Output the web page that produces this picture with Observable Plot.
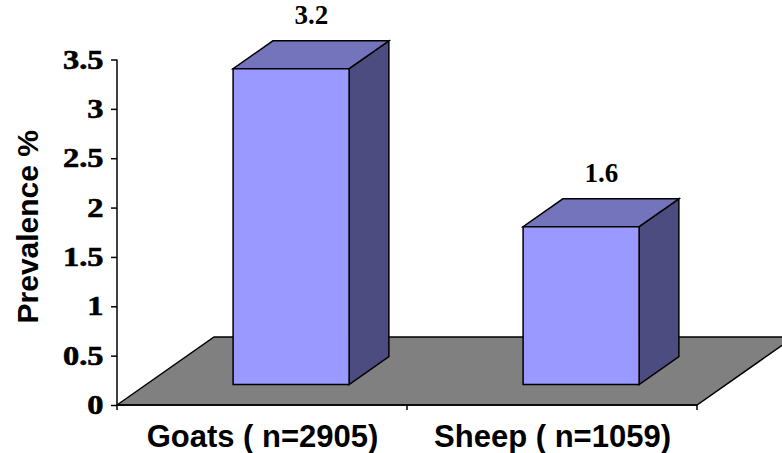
<!DOCTYPE html>
<html>
<head>
<meta charset="utf-8">
<script src="https://cdn.jsdelivr.net/npm/d3@7"></script>
<script src="https://cdn.jsdelivr.net/npm/@observablehq/plot@0.6"></script>
<style>
  body { margin: 0; background: #fff; }
  #chart svg { display: block; }
</style>
</head>
<body>
<div id="chart"></div>
<script>
// Prevalence by species
const categories = ["Goats ( n=2905)", "Sheep ( n=1059)"];
const prevalence = [3.2, 1.6];
const valueLabels = ["3.2", "1.6"];
const yTicks = [0, 0.5, 1, 1.5, 2, 2.5, 3, 3.5];
const yTickLabels = ["0", "0.5", "1", "1.5", "2", "2.5", "3", "3.5"];
const yLabel = "Prevalence %";

const data = categories.map((c, i) => ({category: c, value: prevalence[i], label: valueLabels[i]}));

// Pseudo-3D look: the floor recedes by this pixel offset, columns occupy part of that depth
const depth = [97, -68];
const colFront = 0.3;
const colBack = 0.71;
const colWidth = 0.4;
const colors = {front: "#9999ff", top: "#7474bc", side: "#4c4c80", floor: "#808080"};

function columns3d(index, scales, values, dims) {
  const x = scales.x, y = scales.y;
  const n = categories.length;
  const x0 = dims.marginLeft, x1 = dims.width - dims.marginRight;
  const bw = typeof x.bandwidth === "function" ? x.bandwidth() : (x1 - x0) / n;
  const yb = y(0);
  const [dx, dy] = depth;
  const g = d3.create("svg:g");
  const poly = (pts, fill) => g.append("polygon")
    .attr("points", pts.map(p => p.join(",")).join(" "))
    .attr("fill", fill).attr("stroke", "#000").attr("stroke-width", 1.5)
    .attr("stroke-linejoin", "miter");

  // floor
  poly([[x0, yb], [x0 + dx, yb + dy], [x1 + dx, yb + dy], [x1, yb]], colors.floor);

  // columns
  const bdx = dx * (colBack - colFront), bdy = dy * (colBack - colFront);
  for (const d of data) {
    const w = bw * colWidth;
    const left = x(d.category) + (bw - w) / 2 + dx * colFront;
    const right = left + w;
    const bot = yb + dy * colFront;
    const top = y(d.value) + dy * colFront;
    poly([[right, top], [right + bdx, top + bdy], [right + bdx, bot + bdy], [right, bot]], colors.side);
    poly([[left, top], [right, top], [right + bdx, top + bdy], [left + bdx, top + bdy]], colors.top);
    poly([[left, top], [right, top], [right, bot], [left, bot]], colors.front);
  }

  // axis lines and category boundary ticks
  const line = (xa, ya, xb, yb2) => g.append("line")
    .attr("x1", xa).attr("y1", ya).attr("x2", xb).attr("y2", yb2)
    .attr("stroke", "#000").attr("stroke-width", 1.5);
  line(x0, y(d3.max(yTicks)), x0, yb);
  line(x0, yb, x1, yb);
  for (let i = 0; i <= n; i++) line(x0 + i * bw, yb, x0 + i * bw, yb + 5);
  return g.node();
}

const midDepth = (colFront + colBack) / 2;

const chart = Plot.plot({
  width: 782,
  height: 453,
  marginLeft: 117,
  marginRight: 85,
  marginTop: 59.5,
  marginBottom: 48,
  style: {background: "#fff", overflow: "hidden"},
  x: {type: "band", domain: categories, padding: 0},
  y: {domain: [0, 3.5]},
  marks: [
    columns3d,
    Plot.axisY(yTicks, {
      tickSize: 6, tickPadding: 8, tickFormat: (d, i) => yTickLabels[i],
      fontSize: 27, fontWeight: "bold", fontFamily: "Liberation Serif", fill: "#000",
      stroke: "#000", strokeWidth: 1.5, label: null
    }),
    Plot.axisX({
      tickSize: 0, tickPadding: 19, fontSize: 31, fontWeight: "bold",
      fontFamily: "Liberation Sans", fill: "#000", label: null
    }),
    Plot.text(data, {
      x: "category", y: "value", text: "label",
      dx: depth[0] * midDepth, dy: depth[1] * midDepth - 40,
      fontSize: 27, fontWeight: "bold", fontFamily: "Liberation Serif", fill: "#000",
      ariaLabel: "value label"
    }),
    Plot.text([yLabel], {
      frameAnchor: "left", dx: -89, dy: -6, rotate: -90, textAnchor: "middle",
      fontSize: 30, fontWeight: "bold", fontFamily: "Liberation Sans", fill: "#000"
    })
  ]
});

document.getElementById("chart").appendChild(chart);

// Serif numerals in this chart are heavy and set wide
function widen(selector, size, factor) {
  chart.querySelectorAll(selector).forEach(t => {
    t.style.fontFamily = "'Liberation Serif', 'Times New Roman', serif";
    t.style.fontWeight = "bold";
    t.style.fontSize = size + "px";
    t.setAttribute("stroke", "#000");
    t.setAttribute("stroke-width", 0.6);
    const len = t.getComputedTextLength();
    t.setAttribute("textLength", len * factor);
    t.setAttribute("lengthAdjust", "spacingAndGlyphs");
  });
}
widen('g[aria-label="y-axis tick label"] text', 27, 1.2);
widen('g[aria-label="value label"] text', 27, 1.1);
</script>
</body>
</html>
